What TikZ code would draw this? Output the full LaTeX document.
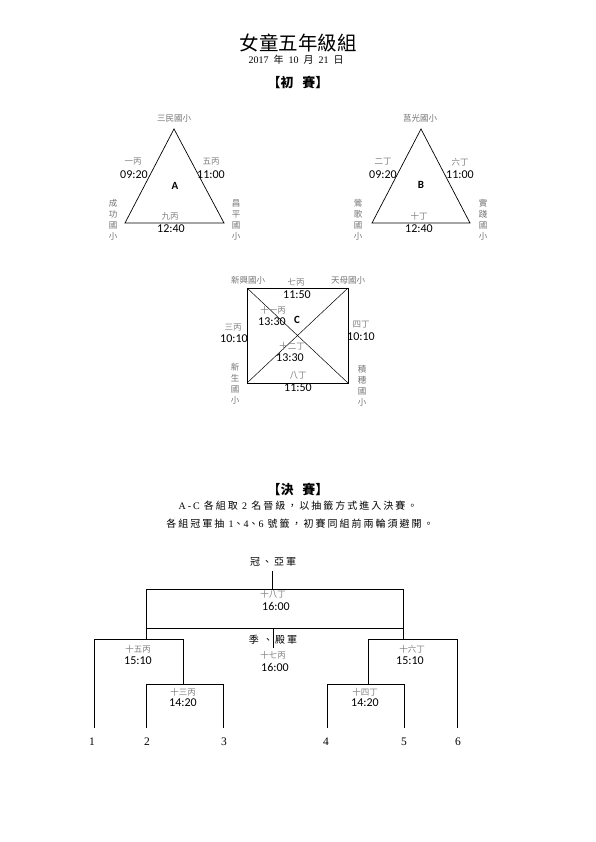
\documentclass[tikz,border=0pt]{standalone}
\usepackage{fontspec}
\setmainfont{Liberation Serif}
\newfontfamily\cjk{Noto Sans CJK TC}
\newfontfamily\cjkwide{Noto Sans CJK TC}[LetterSpace=20]
\newfontfamily\serifwide{Liberation Serif}[LetterSpace=20]
\newfontfamily\timefont{Carlito}
\usepackage{tikz}
\usetikzlibrary{positioning}

\begin{document}
\begin{tikzpicture}[
        x=1pt, y=-1pt,
        line width=0.7pt,
        every node/.style={inner sep=0pt},
        title/.style={font=\cjk\fontsize{19.5}{21}\selectfont},
        head/.style={font=\cjk\bfseries\fontsize{13}{15}\selectfont},
        note/.style={font=\cjkwide\fontsize{10}{11}\selectfont},
        game/.style={font=\cjk\fontsize{8.5}{10}\selectfont, text=black!50},
        school/.style={font=\cjk\fontsize{8.5}{11}\selectfont, text=black!55, align=center},
        clock/.style={font=\timefont\fontsize{12}{13}\selectfont},
        group/.style={font=\timefont\bfseries\fontsize{11}{12}\selectfont},
        seed/.style={font=\fontsize{11.5}{12}\selectfont}
    ]
    \useasboundingbox (0,0) rectangle (595,842);

    %================================================
    % Titles
    %================================================
    \node[title] (ttl) at (298,43) {女童五年級組};
    \node[font=\fontsize{10}{12}\selectfont] (date) at (296,60) {2017\enspace{\cjk 年}\enspace10\enspace{\cjk 月}\enspace21\enspace{\cjk 日}};
    \node[head] (prelim) at (298,82) {【初\ \ \ 賽】};

    %================================================
    % Group A
    %================================================
    \coordinate (Atop) at (174,129);
    \coordinate (Al) at (125,223);
    \coordinate (Ar) at (224,223);
    \draw (Atop) -- (Ar) -- (Al) -- cycle;

    \node[school] (sA1) at (174,118) {三民國小};
    \node[school] (sA2) at (113,220) {成\\功\\國\\小};
    \node[school] (sA3) at (236,220) {昌\\平\\國\\小};
    \node[group] (gA) at (175,186) {A};
    \node[game] (mA1) at (133,162) {一丙};
    \node[clock] (tA1) at (134,175) {09:20};
    \node[game] (mA2) at (211,162) {五丙};
    \node[clock] (tA2) at (211,175) {11:00};
    \node[game] (mA3) at (170,216) {九丙};
    \node[clock] (tA3) at (171,229) {12:40};

    %================================================
    % Group B
    %================================================
    \coordinate (Btop) at (421,129);
    \coordinate (Bl) at (372,223);
    \coordinate (Br) at (470,223);
    \draw (Btop) -- (Br) -- (Bl) -- cycle;

    \node[school] (sB1) at (420,118) {莒光國小};
    \node[school] (sB2) at (358,220) {鶯\\歌\\國\\小};
    \node[school] (sB3) at (483,220) {實\\踐\\國\\小};
    \node[group] (gB) at (421,185) {B};
    \node[game] (mB1) at (383,162) {二丁};
    \node[clock] (tB1) at (383,175) {09:20};
    \node[game] (mB2) at (460,162) {六丁};
    \node[clock] (tB2) at (460,175) {11:00};
    \node[game] (mB3) at (419,216) {十丁};
    \node[clock] (tB3) at (419,229) {12:40};

    %================================================
    % Group C
    %================================================
    \coordinate (Ctl) at (247,288);
    \coordinate (Ctr) at (348,288);
    \coordinate (Cbl) at (247,383);
    \coordinate (Cbr) at (348,383);
    \draw (Ctl) rectangle (Cbr);
    \draw[line width=0.5pt] (Ctl) -- (Cbr);
    \draw[line width=0.5pt] (Ctr) -- (Cbl);

    \node[school] (sC1) at (248,280) {新興國小};
    \node[school] (sC2) at (348,280) {天母國小};
    \node[school] (sC3) at (235,384) {新\\生\\國\\小};
    \node[school] (sC4) at (362,386) {積\\穗\\國\\小};
    \node[group] (gC) at (297,320) {C};
    \node[game] (mC1) at (296,282) {七丙};
    \node[clock] (tC1) at (297,295) {11:50};
    \node[game] (mC2) at (273,310) {十一丙};
    \node[clock] (tC2) at (272,322) {13:30};
    \node[game] (mC3) at (233,328) {三丙};
    \node[clock] (tC3) at (234,339) {10:10};
    \node[game] (mC4) at (361,325) {四丁};
    \node[clock] (tC4) at (361,337) {10:10};
    \node[game] (mC5) at (292,346) {十二丁};
    \node[clock] (tC5) at (290,358) {13:30};
    \node[game] (mC6) at (298,376) {八丁};
    \node[clock] (tC6) at (298,388) {11:50};

    %================================================
    % Finals: notes
    %================================================
    \node[head] (final) at (298,489) {【決\ \ \ 賽】};
    \node[note] (rule1) at (298,506) {{\serifwide A-C} 各組取 {\serifwide 2} 名晉級，以抽籤方式進入決賽。};
    \node[note] (rule2) at (300,524) {各組冠軍抽 {\serifwide 1}、{\serifwide 4}、{\serifwide 6} 號籤，初賽同組前兩輪須避開。};

    %================================================
    % Finals: bracket
    %================================================
    \node[note] (win) at (273,562) {冠、亞軍};
    \coordinate (win-b) at (272,571);
    \coordinate (f-t) at (272,589);
    \coordinate (f-tl) at (146,589);
    \coordinate (f-tr) at (403,589);
    \coordinate (f-bl) at (146,628);
    \coordinate (f-br) at (403,628);
    \coordinate (f-m) at (273,628);
    \coordinate (third) at (273,648);
    \draw (win-b) -- (f-t);
    \draw (f-tl) -- (f-tr) -- (f-br) -- (f-bl) -- cycle;
    \draw (f-m) -- (third);

    % left half
    \coordinate (L-t) at (146,639);
    \coordinate (L-l) at (94,639);
    \coordinate (L-r) at (183,639);
    \coordinate (L-q) at (183,684);
    \coordinate (Q-l) at (146,684);
    \coordinate (Q-r) at (223,684);
    \draw (f-bl) -- (L-t);
    \draw (L-l) -- (L-r) -- (L-q);
    \draw (Q-l) -- (Q-r);

    % right half
    \coordinate (R-t) at (403,639);
    \coordinate (R-l) at (368,639);
    \coordinate (R-r) at (457,639);
    \coordinate (R-q) at (368,684);
    \coordinate (P-l) at (327,684);
    \coordinate (P-r) at (404,684);
    \draw (f-br) -- (R-t);
    \draw (R-l) -- (R-r);
    \draw (R-l) -- (R-q);
    \draw (P-l) -- (P-r);

    % seeds
    \coordinate (e1) at (94,728);
    \coordinate (e2) at (146,728);
    \coordinate (e3) at (223,728);
    \coordinate (e4) at (327,728);
    \coordinate (e5) at (404,728);
    \coordinate (e6) at (457,728);
    \draw (L-l) -- (e1);
    \draw (Q-l) -- (e2);
    \draw (Q-r) -- (e3);
    \draw (P-l) -- (e4);
    \draw (P-r) -- (e5);
    \draw (R-r) -- (e6);
    \node[seed] (n1) at (92,742) {1};
    \node[seed] (n2) at (147,742) {2};
    \node[seed] (n3) at (224,742) {3};
    \node[seed] (n4) at (326,742) {4};
    \node[seed] (n5) at (404,742) {5};
    \node[seed] (n6) at (458,742) {6};

    % match labels
    \node[game] (m18) at (273,594) {十八丁};
    \node[clock] (t18) at (276,606) {16:00};
    \node[note] (lose) at (273,640) {季\ 、殿軍};
    \node[game] (m17) at (273,655) {十七丙};
    \node[clock] (t17) at (275,667) {16:00};
    \node[game] (m15) at (138,649) {十五丙};
    \node[clock] (t15) at (138,661) {15:10};
    \node[game] (m16) at (412,649) {十六丁};
    \node[clock] (t16) at (410,661) {15:10};
    \node[game] (m13) at (183,692) {十三丙};
    \node[clock] (t13) at (183,703) {14:20};
    \node[game] (m14) at (365,692) {十四丁};
    \node[clock] (t14) at (365,703) {14:20};

\end{tikzpicture}
\end{document}
